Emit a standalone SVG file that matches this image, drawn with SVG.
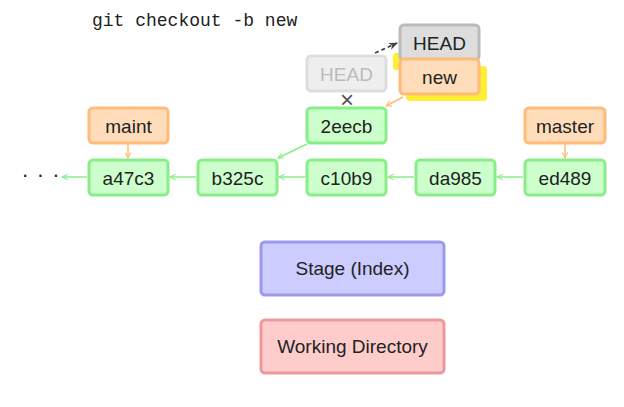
<svg xmlns="http://www.w3.org/2000/svg" width="624" height="407" viewBox="0 0 624 407">
<defs>
<style>
text{font-family:"Liberation Sans",Arial,sans-serif;font-size:19px;fill:#222;text-anchor:middle;dominant-baseline:central}
.cmd{font-family:"Liberation Mono","Courier New",monospace;font-size:18px;text-anchor:start;dominant-baseline:auto}
.commit rect{fill:#ccffcc;stroke:#88ee88;stroke-width:3}
.branch rect{fill:#ffddbb;stroke:#ffbb77;stroke-width:3}
.head rect{fill:#dddddd;stroke:#bbbbbb;stroke-width:3}
.ghost rect{fill:#eeeeee;stroke:#dddddd;stroke-width:3}
.ghost text{fill:#bbbbbb}
.stage rect{fill:#ccccff;stroke:#9999ee;stroke-width:3}
.work rect{fill:#ffcccc;stroke:#ee9999;stroke-width:3}
.g{stroke:#88ee88;stroke-width:1.5;fill:none;marker-end:url(#ag)}
.o{stroke:#ffbb77;stroke-width:1.5;fill:none;marker-end:url(#ao)}
.d{stroke:#444;stroke-width:1.8;fill:none;stroke-dasharray:4,3;marker-end:url(#ad)}
</style>
<marker id="ag" viewBox="0 0 10 10" refX="9" refY="5" markerWidth="7" markerHeight="7" markerUnits="userSpaceOnUse" orient="auto"><path d="M1,1 L9,5 L1,9" fill="none" stroke="#88ee88" stroke-width="1.5"/></marker>
<marker id="ao" viewBox="0 0 10 10" refX="9" refY="5" markerWidth="7" markerHeight="7" markerUnits="userSpaceOnUse" orient="auto"><path d="M1,1 L9,5 L1,9" fill="none" stroke="#ffbb77" stroke-width="1.5"/></marker>
<marker id="ad" viewBox="0 0 10 10" refX="9" refY="5" markerWidth="9" markerHeight="9" markerUnits="userSpaceOnUse" orient="auto"><path d="M0,1 L10,5 L0,9 L3,5 Z" fill="#444"/></marker>
</defs>
<rect width="624" height="407" fill="#fff"/>
<text class="cmd" x="92" y="26">git checkout -b new</text>

<g id="connectors">
<path class="g" d="M87,177 L62,177"/>
<path class="g" d="M196,177 L170,177"/>
<path class="g" d="M305,177 L279,177"/>
<path class="g" d="M414,177 L388,177"/>
<path class="g" d="M523,177 L497,177"/>
<path class="g" d="M307,144 L278,158"/>
<path class="o" d="M128,144 L128,158"/>
<path class="o" d="M565,144 L565,158"/>
<path class="o" d="M403,97 L386,106"/>
<path class="d" d="M375,53 L397,43"/>
</g>

<g id="highlight">
<rect x="393" y="53" width="12" height="17" rx="3" fill="#ffee33"/>
<rect x="406" y="66" width="81" height="35" rx="4" fill="#ffee33"/>
</g>

<g id="dots"><text x="41" y="174" style="font-size:22px;letter-spacing:1px">· · ·</text></g>
<g id="cross"><text x="347" y="99" style="fill:#555;font-size:24px">×</text></g>

<g id="a47c3" class="commit"><rect x="89" y="160" width="79" height="35" rx="4"/><text x="128.5" y="178">a47c3</text></g>
<g id="b325c" class="commit"><rect x="198" y="160" width="79" height="35" rx="4"/><text x="237.5" y="178">b325c</text></g>
<g id="c10b9" class="commit"><rect x="307" y="160" width="79" height="35" rx="4"/><text x="346.5" y="178">c10b9</text></g>
<g id="da985" class="commit"><rect x="416" y="160" width="79" height="35" rx="4"/><text x="455.5" y="178">da985</text></g>
<g id="ed489" class="commit"><rect x="525" y="160" width="80" height="35" rx="4"/><text x="565" y="178">ed489</text></g>
<g id="2eecb" class="commit"><rect x="307" y="108" width="79" height="35" rx="4"/><text x="346.5" y="126">2eecb</text></g>

<g id="maint" class="branch"><rect x="89" y="108" width="79" height="35" rx="4"/><text x="128.5" y="126">maint</text></g>
<g id="master" class="branch"><rect x="525" y="108" width="80" height="35" rx="4"/><text x="565" y="126">master</text></g>

<g id="head-old" class="ghost"><rect x="307" y="56" width="79" height="35" rx="4"/><text x="346.5" y="74">HEAD</text></g>
<g id="head" class="head"><rect x="400" y="25" width="79" height="35" rx="4"/><text x="439.5" y="43">HEAD</text></g>
<g id="new" class="branch"><rect x="400" y="59" width="79" height="35" rx="4"/><text x="439.5" y="77">new</text></g>

<g id="stage" class="stage"><rect x="261" y="242" width="183" height="53" rx="4"/><text x="352.5" y="268">Stage (Index)</text></g>
<g id="working" class="work"><rect x="261" y="320" width="183" height="53" rx="4"/><text x="352.5" y="346">Working Directory</text></g>
</svg>
